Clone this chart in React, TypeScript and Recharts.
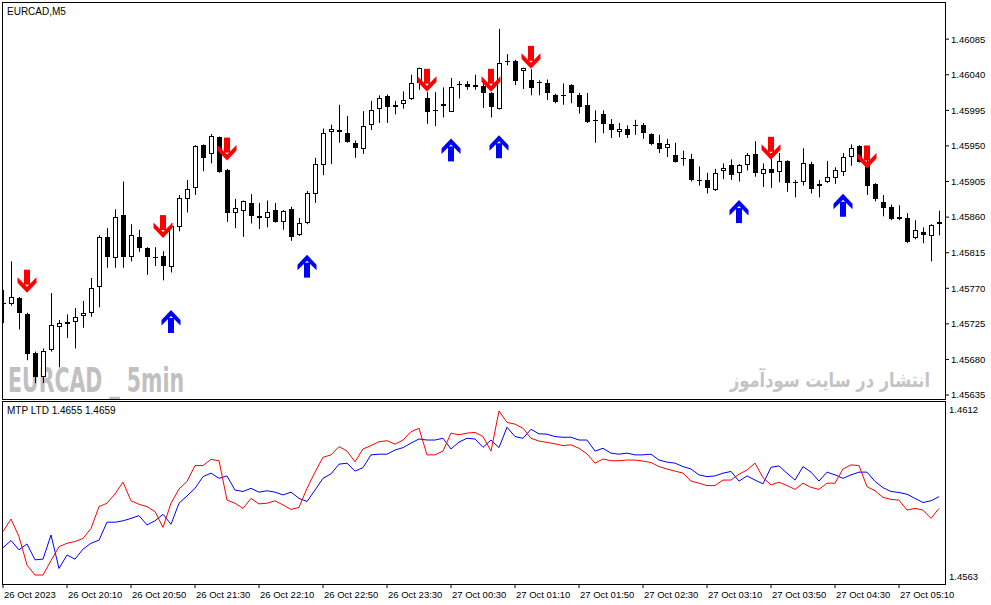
import React from "react";
import { ComposedChart, Bar, Scatter, Line, XAxis, YAxis } from "recharts";

// ── EURCAD M5 candles (bar 0 = 26 Oct 19:30) ─────────────────────────────────

const OPEN = [
  1.45752, 1.4575, 1.45758, 1.45737, 1.45688, 1.45658, 1.45692, 1.45721, 1.45725, 1.45727,
  1.45735, 1.45739, 1.45772, 1.45835, 1.45808, 1.45863, 1.45809, 1.45835, 1.45821, 1.45809,
  1.45811, 1.45797, 1.45847, 1.45883, 1.45897, 1.45951, 1.4594, 1.45961, 1.45919, 1.45865,
  1.45868, 1.45878, 1.45861, 1.45859, 1.45869, 1.45854, 1.4587, 1.45837, 1.45852, 1.45889,
  1.45926, 1.45967, 1.4597, 1.45966, 1.45954, 1.45946, 1.45976, 1.45997, 1.46013, 1.45999,
  1.46003, 1.46009, 1.46029, 1.4601, 1.45996, 1.46001, 1.45993, 1.46027, 1.46028, 1.46027,
  1.46026, 1.46017, 1.45997, 1.46056, 1.46058, 1.46045, 1.46033, 1.46031, 1.46029, 1.46015,
  1.46015, 1.46027, 1.46015, 1.46002, 1.45983, 1.45991, 1.45978, 1.45967, 1.45971, 1.45977,
  1.45976, 1.45965, 1.45954, 1.45948, 1.45938, 1.45935, 1.45933, 1.45907, 1.45907, 1.45894,
  1.45918, 1.45926, 1.45916, 1.45926, 1.4594, 1.45914, 1.45921, 1.45917, 1.45931, 1.45905,
  1.45905, 1.45927, 1.45899, 1.45904, 1.45909, 1.45917, 1.45936, 1.4595, 1.4593, 1.45902,
  1.45879, 1.45873, 1.4586, 1.45859, 1.45833, 1.45841, 1.45836, 1.45851,
];
const HIGH = [
  1.45768, 1.45804, 1.45759, 1.45739, 1.4569, 1.45694, 1.45764, 1.4573, 1.45737, 1.45745,
  1.45754, 1.45783, 1.45837, 1.45846, 1.4587, 1.45905, 1.45851, 1.45844, 1.45822, 1.45822,
  1.45817, 1.45852, 1.45888, 1.45907, 1.45951, 1.45952, 1.45965, 1.45962, 1.45921, 1.45883,
  1.45881, 1.45889, 1.45878, 1.45881, 1.45878, 1.45869, 1.45873, 1.45859, 1.45893, 1.45935,
  1.45972, 1.45977, 1.46002, 1.45988, 1.45957, 1.45994, 1.46007, 1.46014, 1.46015, 1.46007,
  1.46019, 1.4604, 1.46049, 1.46018, 1.46018, 1.46024, 1.46036, 1.46032, 1.46032, 1.4604,
  1.46031, 1.46018, 1.46098, 1.46066, 1.46059, 1.46049, 1.46047, 1.46033, 1.46034, 1.46016,
  1.46029, 1.46028, 1.46017, 1.46017, 1.45995, 1.45995, 1.45984, 1.45979, 1.45976, 1.45983,
  1.45979, 1.45966, 1.45964, 1.45959, 1.45954, 1.45944, 1.4594, 1.45924, 1.45916, 1.45921,
  1.45928, 1.45933, 1.45927, 1.45941, 1.45956, 1.45928, 1.45941, 1.45941, 1.45932, 1.45907,
  1.45947, 1.4593, 1.45907, 1.45931, 1.45923, 1.45941, 1.45952, 1.45951, 1.45932, 1.45903,
  1.45888, 1.45876, 1.45875, 1.45865, 1.45856, 1.45847, 1.45851, 1.45868,
];
const LOW = [
  1.45726, 1.45748, 1.45718, 1.45679, 1.4565, 1.4565, 1.4569, 1.4567, 1.45707, 1.45694,
  1.4572, 1.45734, 1.45746, 1.45796, 1.45796, 1.45796, 1.45804, 1.45816, 1.45787, 1.45798,
  1.4578, 1.4579, 1.45842, 1.45866, 1.45888, 1.45918, 1.45928, 1.45916, 1.45854, 1.45846,
  1.45835, 1.45852, 1.45845, 1.45847, 1.45853, 1.45844, 1.4583, 1.45836, 1.45851, 1.45878,
  1.45913, 1.45927, 1.45954, 1.45954, 1.45935, 1.4594, 1.4597, 1.45979, 1.45979, 1.4599,
  1.45997, 1.46008, 1.46021, 1.45978, 1.45975, 1.45986, 1.45993, 1.4601, 1.46021, 1.46021,
  1.45998, 1.45986, 1.45996, 1.46052, 1.46027, 1.46022, 1.46014, 1.46014, 1.46008, 1.46004,
  1.46002, 1.46004, 1.45991, 1.45979, 1.45954, 1.45966, 1.4596, 1.45961, 1.4596, 1.45964,
  1.45959, 1.45951, 1.45941, 1.45936, 1.45929, 1.45925, 1.45905, 1.459, 1.4589, 1.45893,
  1.45908, 1.45907, 1.45905, 1.45919, 1.45911, 1.45898, 1.45897, 1.45904, 1.45892, 1.45885,
  1.459, 1.4589, 1.45885, 1.45903, 1.45902, 1.45912, 1.45925, 1.45929, 1.45888, 1.4588,
  1.45861, 1.45856, 1.45856, 1.45827, 1.45832, 1.45827, 1.45804, 1.45837,
];
const CLOSE = [
  1.4575, 1.45759, 1.45739, 1.45687, 1.45658, 1.45691, 1.45723, 1.45726, 1.45727, 1.45734,
  1.45739, 1.4577, 1.45835, 1.45809, 1.4586, 1.45809, 1.45837, 1.45821, 1.45809, 1.45808,
  1.45798, 1.45849, 1.45884, 1.45895, 1.4595, 1.45935, 1.45962, 1.45917, 1.45865, 1.45871,
  1.4588, 1.45861, 1.45859, 1.45866, 1.45854, 1.45868, 1.45835, 1.45852, 1.4589, 1.45927,
  1.45966, 1.45972, 1.45968, 1.45955, 1.45947, 1.45975, 1.45995, 1.4601, 1.45999, 1.46002,
  1.46008, 1.46029, 1.46048, 1.45993, 1.45994, 1.46003, 1.46024, 1.46028, 1.46024, 1.46024,
  1.46017, 1.45999, 1.46055, 1.46057, 1.46032, 1.46048, 1.46023, 1.4603, 1.46017, 1.46005,
  1.46014, 1.46017, 1.45999, 1.4598, 1.45982, 1.45978, 1.4597, 1.45972, 1.45964, 1.45976,
  1.45966, 1.45952, 1.45946, 1.45952, 1.4593, 1.45934, 1.45907, 1.45906, 1.45897, 1.45916,
  1.45922, 1.45913, 1.45926, 1.45938, 1.45916, 1.45921, 1.45916, 1.45931, 1.45903, 1.45904,
  1.45928, 1.45895, 1.45902, 1.45911, 1.45919, 1.45936, 1.45947, 1.4593, 1.45899, 1.45883,
  1.45871, 1.45857, 1.45857, 1.45828, 1.45844, 1.45837, 1.4585, 1.45854,
];

// ── MTP LTD indicator ─────────────────────────────────────────────────────────

const RED = [
  1.45762, 1.45798, 1.45747, 1.45665, 1.45636, 1.45636, 1.45678, 1.45718, 1.45728, 1.45733,
  1.45742, 1.45771, 1.45834, 1.45844, 1.45871, 1.45905, 1.45851, 1.45841, 1.45834, 1.4582,
  1.45774, 1.45844, 1.45885, 1.45907, 1.45953, 1.45953, 1.45971, 1.45967, 1.45853, 1.45844,
  1.45829, 1.45858, 1.45842, 1.45844, 1.45851, 1.45839, 1.45826, 1.45832, 1.45887, 1.45934,
  1.45977, 1.45984, 1.46008, 1.45995, 1.45964, 1.46001, 1.46011, 1.46022, 1.46025, 1.46015,
  1.46027, 1.46051, 1.46061, 1.45984, 1.45984, 1.45995, 1.46047, 1.46042, 1.46047, 1.46049,
  1.46037, 1.45995, 1.46111, 1.46078, 1.46073, 1.46061, 1.46032, 1.46024, 1.4602, 1.46016,
  1.46011, 1.46013, 1.46003, 1.45987, 1.4596, 1.45972, 1.45967, 1.45967, 1.45969, 1.45969,
  1.45966, 1.45962, 1.4595, 1.45943, 1.45937, 1.45931, 1.45908, 1.45902, 1.45895, 1.45895,
  1.45911, 1.45911, 1.45928, 1.4594, 1.4596, 1.45918, 1.45897, 1.45905, 1.45895, 1.45884,
  1.45902, 1.4589, 1.45884, 1.45902, 1.45902, 1.45943, 1.45955, 1.45953, 1.45892, 1.4588,
  1.45861, 1.45855, 1.45853, 1.45824, 1.45829, 1.45824, 1.458, 1.45829,
];
const BLUE = [
  1.45715, 1.45736, 1.45709, 1.45726, 1.4568, 1.45682, 1.45752, 1.45655, 1.45694, 1.45682,
  1.45711, 1.45728, 1.45737, 1.45789, 1.45789, 1.45793, 1.458, 1.45808, 1.45781, 1.45793,
  1.45812, 1.45783, 1.45844, 1.45865, 1.45887, 1.45921, 1.45931, 1.45916, 1.45923, 1.45882,
  1.45878, 1.45887, 1.45876, 1.4588, 1.45876, 1.45868, 1.45876, 1.45858, 1.45849, 1.45882,
  1.45916, 1.45929, 1.45957, 1.4596, 1.45937, 1.45947, 1.45984, 1.45986, 1.45986, 1.45998,
  1.46005, 1.46018, 1.4603, 1.46027, 1.46027, 1.46032, 1.46001, 1.46021, 1.46032, 1.4603,
  1.46006, 1.46027, 1.46005, 1.46064, 1.46037, 1.46032, 1.46058, 1.46045, 1.46044, 1.46037,
  1.46035, 1.46035, 1.46027, 1.46027, 1.45995, 1.46003, 1.45989, 1.45986, 1.45989, 1.45984,
  1.45984, 1.45986, 1.45969, 1.45963, 1.4596, 1.4595, 1.45943, 1.45926, 1.45921, 1.45923,
  1.45931, 1.45936, 1.45908, 1.45923, 1.45911, 1.459, 1.45948, 1.45952, 1.45931, 1.45911,
  1.4595, 1.45934, 1.45908, 1.45934, 1.45926, 1.45916, 1.45926, 1.45934, 1.45934, 1.45907,
  1.45889, 1.45878, 1.45875, 1.4587, 1.45858, 1.45846, 1.45851, 1.45863,
];

// ── signal arrows ─────────────────────────────────────────────────────────────

const DOWN_BARS = [3, 20, 28, 53, 61, 66, 96, 108];
const DOWN_VALUES = [1.45779, 1.45848, 1.45946, 1.46033, 1.46033, 1.46062, 1.45947, 1.45936];
const UP_BARS = [21, 38, 56, 62, 92, 105];
const UP_VALUES = [1.45728, 1.45798, 1.45945, 1.45949, 1.45867, 1.45875];

// ── axes ──────────────────────────────────────────────────────────────────────

const TIME_TICKS = [0, 8, 16, 24, 32, 40, 48, 56, 64, 72, 80, 88, 96, 104, 112];
const TIME_LABELS = [
  "26 Oct 2023", "26 Oct 20:10", "26 Oct 20:50", "26 Oct 21:30", "26 Oct 22:10",
  "26 Oct 22:50", "26 Oct 23:30", "27 Oct 00:30", "27 Oct 01:10", "27 Oct 01:50",
  "27 Oct 02:30", "27 Oct 03:10", "27 Oct 03:50", "27 Oct 04:30", "27 Oct 05:10",
];
const PRICE_TICKS = [
  1.46085, 1.4604, 1.45995, 1.4595, 1.45905, 1.4586, 1.45815, 1.4577, 1.45725, 1.4568, 1.45635,
];
const IND_TICKS = [1.4612, 1.4563];

const candles = OPEN.map((o, i) => ({
  i,
  open: o,
  high: HIGH[i],
  low: LOW[i],
  close: CLOSE[i],
  range: [LOW[i], HIGH[i]],
}));
const indicator = RED.map((r, i) => ({ i, red: r, blue: BLUE[i] }));
const downArrows = DOWN_BARS.map((i, k) => ({ i, v: DOWN_VALUES[k] }));
const upArrows = UP_BARS.map((i, k) => ({ i, v: UP_VALUES[k] }));

const X_DOMAIN: [number, number] = [-0.125, 117.75];
const FONT = '"Liberation Sans", Arial, sans-serif';

// ── shapes ────────────────────────────────────────────────────────────────────

function Candle(props: any) {
  const { x, y, width, height, payload } = props;
  if (!payload) return null;
  const { open, high, low, close } = payload;
  const top = height < 0 ? y + height : y;
  const h = Math.abs(height);
  const k = high - low > 0 ? h / (high - low) : 0;
  const cx = Math.round(x + width / 2) + 0.5;
  const yo = top + (high - open) * k;
  const yc = top + (high - close) * k;
  const bTop = Math.round(Math.min(yo, yc));
  const bBot = Math.round(Math.max(yo, yc));
  let body;
  if (bBot - bTop < 2) {
    body = <line x1={cx - 2.5} x2={cx + 2.5} y1={bTop + 0.5} y2={bTop + 0.5} stroke="#000" />;
  } else if (close >= open) {
    body = (
      <rect x={cx - 2} y={bTop + 0.5} width={4} height={bBot - bTop - 1} fill="#fff" stroke="#000" />
    );
  } else {
    body = <rect x={cx - 2.5} y={bTop} width={5} height={bBot - bTop} fill="#000" />;
  }
  return (
    <g>
      <line x1={cx} x2={cx} y1={top} y2={top + h} stroke="#000" />
      {body}
    </g>
  );
}

function DownArrow({ cx, cy }: any) {
  return (
    <g fill="#FF0000">
      <rect x={cx - 3} y={cy - 11.5} width={6} height={15} />
      <polygon
        points={`${cx - 9.5},${cy - 4} ${cx},${cy + 5.5} ${cx + 9.5},${cy - 4} ${cx + 9.5},${cy + 1.5} ${cx},${cy + 11.5} ${cx - 9.5},${cy + 1.5}`}
      />
    </g>
  );
}

function UpArrow({ cx, cy }: any) {
  return (
    <g fill="#0000FF">
      <rect x={cx - 3} y={cy - 3.5} width={6} height={15} />
      <polygon
        points={`${cx - 9.5},${cy + 4} ${cx},${cy - 5.5} ${cx + 9.5},${cy + 4} ${cx + 9.5},${cy - 1.5} ${cx},${cy - 11.5} ${cx - 9.5},${cy - 1.5}`}
      />
    </g>
  );
}

function TimeTick(props: any) {
  const { x, y, payload } = props;
  const label = TIME_LABELS[TIME_TICKS.indexOf(payload.value)];
  return (
    <text x={x + 1} y={y + 8} fontSize={9.5} fontFamily={FONT} fill="#000" textAnchor="start">
      {label}
    </text>
  );
}

// MT4 keeps the sub-window min/max labels just inside the panel
function IndTick(props: any) {
  const { x, y, payload } = props;
  const top = payload.value === IND_TICKS[0];
  return (
    <text
      x={x}
      y={top ? y + 5 : y + 3}
      fontSize={9.5}
      fontFamily={FONT}
      fill="#000"
      textAnchor="start"
    >
      {payload.value.toFixed(4)}
    </text>
  );
}

// ── app ───────────────────────────────────────────────────────────────────────

export default function App() {
  return (
    <div
      style={{
        position: "absolute",
        left: 0,
        top: 0,
        width: 991,
        height: 605,
        background: "#fff",
        overflow: "hidden",
      }}
    >
      {/* watermarks sit behind the candles */}
      <svg width={991} height={400} style={{ position: "absolute", left: 0, top: 0 }}>
        <text
          x={8}
          y={392}
          fontSize={33}
          fontWeight="bold"
          fontFamily='"DejaVu Sans", "Liberation Sans", sans-serif'
          fill="#C0C0C0"
          textLength={176}
          lengthAdjust="spacingAndGlyphs"
        >
          EURCAD _ 5min
        </text>
        <text
          x={730}
          y={387}
          fontSize={20}
          fontWeight="bold"
          fontFamily='"DejaVu Sans", sans-serif'
          fill="#C4C4C4"
          textLength={200}
          lengthAdjust="spacingAndGlyphs"
        >
          انتشار در سایت سودآموز
        </text>
      </svg>

      <div style={{ position: "absolute", left: 0, top: 0 }}>
        <ComposedChart
          width={991}
          height={400}
          data={candles}
          margin={{ top: 2, right: 0, bottom: 1, left: 2 }}
        >
          <XAxis dataKey="i" type="number" domain={X_DOMAIN} allowDataOverflow hide />
          <YAxis
            orientation="right"
            type="number"
            width={46}
            domain={[1.4563, 1.46132]}
            allowDataOverflow
            ticks={PRICE_TICKS}
            interval={0}
            tickFormatter={(v: number) => v.toFixed(5)}
            tick={{ fontSize: 9.5, fill: "#000", fontFamily: FONT }}
            tickLine={{ stroke: "#000" }}
            tickSize={4}
            axisLine={false}
          />
          <Bar dataKey="range" barSize={5} shape={<Candle />} isAnimationActive={false} />
          <Scatter data={downArrows} dataKey="v" shape={<DownArrow />} isAnimationActive={false} />
          <Scatter data={upArrows} dataKey="v" shape={<UpArrow />} isAnimationActive={false} />
        </ComposedChart>
      </div>

      <div style={{ position: "absolute", left: 0, top: 400 }}>
        <ComposedChart
          width={991}
          height={205}
          data={indicator}
          margin={{ top: 1, right: 0, bottom: 0, left: 2 }}
        >
          <XAxis
            dataKey="i"
            type="number"
            domain={X_DOMAIN}
            allowDataOverflow
            ticks={TIME_TICKS}
            interval={0}
            height={21}
            tick={<TimeTick />}
            tickLine={{ stroke: "#000" }}
            tickSize={4}
            axisLine={false}
          />
          <YAxis
            orientation="right"
            type="number"
            width={46}
            domain={[1.4561, 1.4614]}
            allowDataOverflow
            ticks={IND_TICKS}
            interval={0}
            tick={<IndTick />}
            tickLine={false}
            tickSize={0}
            tickMargin={4}
            axisLine={false}
          />
          <Line dataKey="blue" stroke="#0000FF" strokeWidth={1} dot={false} type="linear" isAnimationActive={false} />
          <Line dataKey="red" stroke="#FF0000" strokeWidth={1} dot={false} type="linear" isAnimationActive={false} />
        </ComposedChart>
      </div>

      {/* panel frames */}
      <div
        style={{
          position: "absolute",
          left: 2,
          top: 2,
          width: 944,
          height: 398,
          border: "1px solid #000",
          boxSizing: "border-box",
          pointerEvents: "none",
        }}
      />
      <div
        style={{
          position: "absolute",
          left: 2,
          top: 401,
          width: 944,
          height: 184,
          border: "1px solid #000",
          boxSizing: "border-box",
          pointerEvents: "none",
        }}
      />

      <svg
        width={991}
        height={605}
        style={{ position: "absolute", left: 0, top: 0, pointerEvents: "none" }}
      >
        <text x={7} y={15} fontSize={10} fontFamily={FONT} fill="#000">
          EURCAD,M5
        </text>
        <text x={7} y={414} fontSize={10} fontFamily={FONT} fill="#000">
          MTP LTD 1.4655 1.4659
        </text>
      </svg>
    </div>
  );
}
